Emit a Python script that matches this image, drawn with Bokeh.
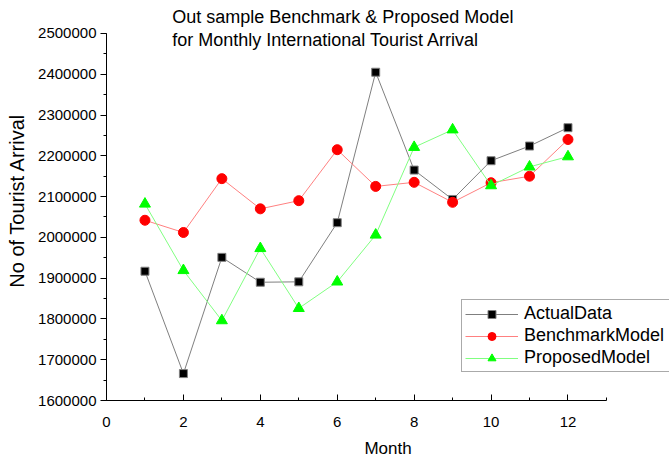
from bokeh.plotting import figure
from bokeh.models import Label, Legend, LegendItem, SingleIntervalTicker, NumeralTickFormatter, Range1d
from bokeh.embed import file_html
from bokeh.resources import INLINE

months = [1, 2, 3, 4, 5, 6, 7, 8, 9, 10, 11, 12]
actual = [1917000, 1666000, 1951000, 1890000, 1891000, 2036000, 2405000, 2165000, 2093000, 2188000, 2224000, 2269000]
benchmark = [2042000, 2012000, 2144000, 2070000, 2090000, 2215000, 2125000, 2135000, 2086000, 2134000, 2150000, 2240000]
proposed = [2082000, 1919000, 1796000, 1973000, 1826000, 1891000, 2006000, 2221000, 2264000, 2127000, 2173000, 2198000]
title_lines = ["Out sample Benchmark & Proposed Model", "for Monthly International Tourist Arrival"]

FONT = "Liberation Sans"

p = figure(width=669, height=460, output_backend="svg", toolbar_location=None,
           x_range=Range1d(0, 14.64), y_range=Range1d(1600000, 2580870),
           min_border_left=106, min_border_right=0, min_border_top=0, min_border_bottom=60)
p.outline_line_color = None
p.xgrid.visible = False
p.ygrid.visible = False

p.xaxis.ticker = SingleIntervalTicker(interval=2, num_minor_ticks=2)
p.yaxis.ticker = SingleIntervalTicker(interval=100000, num_minor_ticks=2)
p.yaxis.formatter = NumeralTickFormatter(format="0")
p.xaxis.bounds = (0, 13)
p.yaxis.bounds = (1600000, 2500000)

for ax in (p.xaxis[0], p.yaxis[0]):
    ax.axis_line_color = "black"
    ax.major_tick_line_color = "black"
    ax.minor_tick_line_color = "black"
    ax.major_label_text_font = FONT
    ax.major_label_text_font_size = "15px"
    ax.major_label_text_color = "black"
    ax.axis_label_text_font = FONT
    ax.axis_label_text_font_style = "normal"
    ax.axis_label_text_color = "black"

p.xaxis.major_tick_in = 6
p.xaxis.major_tick_out = 0
p.xaxis.minor_tick_in = 3
p.xaxis.minor_tick_out = 0
p.xaxis.major_label_standoff = 16
p.xaxis.axis_label = "Month"
p.xaxis.axis_label_text_font_size = "17px"
p.xaxis.axis_label_standoff = 9

p.yaxis.major_tick_in = 0
p.yaxis.major_tick_out = 6
p.yaxis.minor_tick_in = 0
p.yaxis.minor_tick_out = 3
p.yaxis.major_label_standoff = 4
p.yaxis.axis_label = "No of Tourist Arrival"
p.yaxis.axis_label_text_font_size = "20px"
p.yaxis.axis_label_standoff = 7

l1 = p.line(months, actual, line_color="#7f7f7f", line_width=1)
s1 = p.scatter(months, actual, marker="square", size=8, fill_color="black", line_color="#808080")
l2 = p.line(months, benchmark, line_color="#ff8080", line_width=1)
s2 = p.scatter(months, benchmark, marker="circle", size=10, fill_color="red", line_color="red")
l3 = p.line(months, proposed, line_color="#80ff80", line_width=1)
s3 = p.scatter(months, proposed, marker="triangle", size=11, fill_color="#00ff00", line_color="#00ff00")

legend = Legend(items=[
    LegendItem(label="ActualData", renderers=[l1, s1]),
    LegendItem(label="BenchmarkModel", renderers=[l2, s2]),
    LegendItem(label="ProposedModel", renderers=[l3, s3]),
], location=(355, 28))
legend.label_text_font = FONT
legend.label_text_font_size = "18px"
legend.label_text_color = "black"
legend.border_line_color = "#555555"
legend.border_line_width = 1
legend.background_fill_alpha = 1
legend.glyph_width = 53
legend.glyph_height = 20
legend.label_height = 20
legend.label_width = 150
legend.spacing = 1
legend.padding = 3
legend.margin = 0
legend.label_standoff = 6
p.add_layout(legend, "center")

title_y = [2539200, 2484000]
for t, ty in zip(title_lines, title_y):
    p.add_layout(Label(x=1.709, y=ty, text=t, text_font=FONT,
                       text_font_size="18px", text_baseline="middle", text_align="left",
                       text_color="black"))

open("out.html", "w").write(file_html(p, INLINE))
